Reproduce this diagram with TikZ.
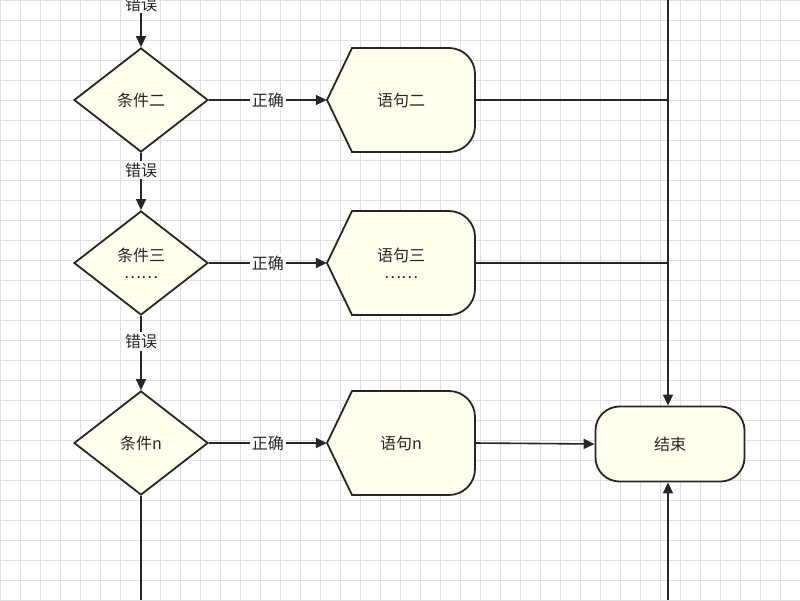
\documentclass[tikz,border=0pt]{standalone}
\usepackage{fontspec}
\setmainfont{Noto Sans CJK SC}
\usetikzlibrary{shapes.geometric,arrows.meta}
\definecolor{cream}{HTML}{FFFFEE}
\definecolor{ink}{HTML}{262626}
\begin{document}
\begin{tikzpicture}[x=1pt,y=-1pt,
  box/.style={draw=ink,line width=1.8pt,fill=cream},
  dia/.style={diamond,box,minimum width=134pt,minimum height=104pt,inner sep=0pt,aspect=1.3,font=\fontsize{16}{19}\selectfont,text=ink,align=center},
  lbl/.style={font=\fontsize{16}{19}\selectfont,text=ink,align=center},
  hold/.style={rectangle,minimum width=148pt,minimum height=105pt,inner sep=0pt},
  line/.style={draw=ink,line width=1.6pt},
  arr/.style={line,-{Triangle[length=11pt,width=10pt]}},
  lab/.style={fill=white,font=\fontsize{16}{19}\selectfont,text=ink,inner sep=2pt}]
\useasboundingbox (0,0) rectangle (800,600);
\fill[white] (0,0) rectangle (800,600);
\draw[black!12,line width=0.6pt] (0,0) grid[step=20pt] (800,600);
\def\stmt#1{%
  \path[box] (327,#1) -- (352,#1-52) [rounded corners=26pt] -- (475,#1-52) -- (475,#1+52) [sharp corners] -- (352,#1+52) -- cycle;}
\stmt{100}
\stmt{263}
\stmt{443}
\node[hold] (s2) at (401,100) {};
\node[hold] (s3) at (401,263) {};
\node[hold] (sn) at (401,443) {};
\node[lbl] at (401,100) {语句二};
\node[lbl] at (401,263) {语句三\\[-2pt]……};
\node[lbl] at (401,443) {语句n};
\node[dia] (c2) at (141,100) {条件二};
\node[dia] (c3) at (141,263) {条件三\\[-2pt]……};
\node[dia] (cn) at (141,443) {条件n};
\node[draw=ink,line width=1.8pt,fill=cream,rounded corners=24pt,minimum width=149pt,minimum height=75pt,lbl] (end) at (670,444) {结束};
\coordinate (topL) at (141,0);
\coordinate (topR) at (668,0);
\coordinate (botL) at (141,600);
\coordinate (botR) at (668,600);
\coordinate (j2) at (668,100);
\coordinate (j3) at (668,263);
\draw[arr] (topL) -- (c2.north);
\node[lab] (e1) at (141,4) {错误};
\draw[arr] (c2.south) -- node[lab,pos=0.3]{错误} (c3.north);
\draw[arr] (c3.south) -- node[lab,pos=0.35]{错误} (cn.north);
\draw[arr] (c2.east) -- node[lab]{正确} (s2.west);
\draw[arr] (c3.east) -- node[lab]{正确} (s3.west);
\draw[arr] (cn.east) -- node[lab]{正确} (sn.west);
\draw[line] (s2.east) -- (j2);
\draw[line] (s3.east) -- (j3);
\draw[arr] (topR) -- (end.north -| topR);
\draw[arr] (sn.east) -- (end.west);
\draw[arr] (botR) -- (end.south -| botR);
\draw[line] (cn.south) -- (botL);
\end{tikzpicture}
\end{document}
